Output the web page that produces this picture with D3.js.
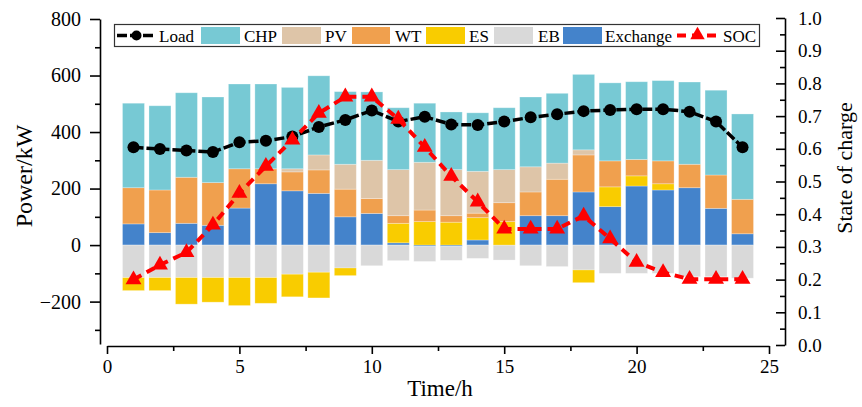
<!DOCTYPE html>
<html>
<head>
<meta charset="utf-8">
<script src="https://cdn.jsdelivr.net/npm/d3@7"></script>
<style>
  body { margin: 0; background: #fff; }
  svg { display: block; font-family: "Liberation Serif", "Times New Roman", serif; }
</style>
</head>
<body>
<svg id="chart" width="862" height="407"></svg>
<script>
const hours = [1, 2, 3, 4, 5, 6, 7, 8, 9, 10, 11, 12, 13, 14, 15, 16, 17, 18, 19, 20, 21, 22, 23, 24];
const load = [346, 340, 335, 329, 364, 369, 384, 418, 443, 476, 437, 454, 427, 425, 437, 452, 463, 474, 478, 481, 481, 472, 437, 346];
const chp = [299, 298, 299, 303, 300, 300, 288, 280, 257, 242, 219, 209, 204, 207, 219, 247, 247, 267, 276, 275, 284, 291, 300, 302];
const pv = [0, 0, 0, 0, 0, 0, 11, 53, 88, 135, 163, 169, 163, 148, 117, 89, 57, 18, 0, 0, 0, 0, 0, 0];
const wt = [128, 151, 163, 151, 139, 53, 67, 83, 98, 53, 27, 41, 23, 16, 67, 84, 129, 131, 92, 58, 81, 83, 118, 122];
const es = [-46, -46, -94, -87, -99, -91, -80, -91, -27, 0, 69, 83, 81, 79, 83, 0, 0, -45, 70, 36, 22, 0, 0, 0];
const eb = [-115, -115, -115, -115, -115, -115, -103, -96, -81, -73, -55, -53, -49, -47, -53, -73, -76, -88, -100, -100, -100, -112, -112, -117];
const exchange = [75, 44, 77, 70, 131, 217, 192, 183, 100, 112, 8, -5, -5, 18, 0, 104, 104, 188, 136, 209, 195, 203, 130, 40];
const soc = [0.200, 0.245, 0.283, 0.367, 0.464, 0.547, 0.627, 0.709, 0.759, 0.759, 0.691, 0.605, 0.516, 0.438, 0.355, 0.355, 0.355, 0.395, 0.325, 0.253, 0.222, 0.201, 0.201, 0.201];

const xTicks = [0, 5, 10, 15, 20, 25];
const yTicks = [-200, 0, 200, 400, 600, 800];
const socTicks = [0, 0.1, 0.2, 0.3, 0.4, 0.5, 0.6, 0.7, 0.8, 0.9, 1.0];

const colors = {
  Exchange: "#4483CB",
  EB: "#D9D9D9",
  ES: "#F9CC00",
  WT: "#F0A04E",
  PV: "#DEC5A8",
  CHP: "#77C9D4"
};

// table for the stack
const rows = hours.map((h, i) => ({
  hour: h, Exchange: exchange[i], EB: eb[i], ES: es[i], WT: wt[i], PV: pv[i], CHP: chp[i]
}));
const keys = ["Exchange", "EB", "ES", "WT", "PV", "CHP"];
const series = d3.stack().keys(keys).offset(d3.stackOffsetDiverging)(rows);

const svg = d3.select("#chart");

const x = d3.scaleLinear().domain([0, 25]).range([107, 769]);
const y = d3.scaleLinear().domain([-350, 800]).range([344, 19]);
const ySoc = d3.scaleLinear().domain([0, 1]).range([345, 18]);
const barW = (x(1) - x(0)) * 0.83;

// bars
svg.append("g")
  .selectAll("g")
  .data(series)
  .enter()
  .append("g")
  .attr("fill", d => colors[d.key])
  .selectAll("rect")
  .data(d => d)
  .enter()
  .append("rect")
  .attr("x", d => x(d.data.hour) - barW / 2)
  .attr("y", d => y(Math.max(d[0], d[1])))
  .attr("width", barW)
  .attr("height", d => Math.abs(y(d[0]) - y(d[1])))
  .attr("stroke", "#fff")
  .attr("stroke-opacity", 0.35)
  .attr("stroke-width", 0.8);

// load line
const loadLine = d3.line().x((d, i) => x(hours[i])).y(d => y(d));
svg.append("path")
  .datum(load)
  .attr("d", loadLine)
  .attr("fill", "none")
  .attr("stroke", "#000")
  .attr("stroke-width", 3.5)
  .attr("stroke-dasharray", "10,3");
svg.append("g")
  .selectAll("circle")
  .data(load)
  .enter()
  .append("circle")
  .attr("cx", (d, i) => x(hours[i]))
  .attr("cy", d => y(d))
  .attr("r", 6)
  .attr("fill", "#000");

// SOC line
const socLine = d3.line().x((d, i) => x(hours[i])).y(d => ySoc(d));
svg.append("path")
  .datum(soc)
  .attr("d", socLine)
  .attr("fill", "none")
  .attr("stroke", "#f00")
  .attr("stroke-width", 4)
  .attr("stroke-dasharray", "9,6");
const tri = d3.symbol().type(d3.symbolTriangle).size(110);
svg.append("g")
  .selectAll("path")
  .data(soc)
  .enter()
  .append("path")
  .attr("d", tri)
  .attr("transform", (d, i) => `translate(${x(hours[i])},${ySoc(d)})`)
  .attr("fill", "#f00");

// axes
function styleAxis(g, size) {
  g.select(".domain").attr("stroke", "#000").attr("stroke-width", 1.6);
  g.selectAll(".tick line").attr("stroke", "#000").attr("stroke-width", 1.6);
  g.selectAll("text").attr("font-family", "Liberation Serif, Times New Roman, serif")
    .attr("font-size", size).attr("fill", "#000");
}

const xMinor = [2.5, 7.5, 12.5, 17.5, 22.5];
svg.append("g")
  .attr("transform", "translate(0,346)")
  .call(d3.axisBottom(x).tickValues(xMinor).tickSize(5).tickSizeOuter(0).tickFormat(""))
  .call(g => styleAxis(g, 19));
svg.append("g")
  .attr("transform", "translate(0,346)")
  .call(d3.axisBottom(x).tickValues(xTicks).tickSize(8).tickSizeOuter(0).tickPadding(6).tickFormat(d3.format("d")))
  .call(g => styleAxis(g, 19))
  .call(g => g.select(".domain").remove());

const yMinor = [-300, -100, 100, 300, 500, 700];
const yAxisScale = y.copy().range([344, 19]);
svg.append("g")
  .attr("transform", "translate(100,0)")
  .call(d3.axisLeft(yAxisScale).tickValues(yMinor).tickSize(5).tickSizeOuter(0).tickFormat(""))
  .call(g => styleAxis(g, 20));
svg.append("g")
  .attr("transform", "translate(100,0)")
  .call(d3.axisLeft(yAxisScale).tickValues(yTicks).tickSize(10).tickSizeOuter(0).tickPadding(9).tickFormat(d3.format("d")))
  .call(g => styleAxis(g, 20))
  .call(g => g.select(".domain").remove());

const socMinor = [0.05, 0.15, 0.25, 0.35, 0.45, 0.55, 0.65, 0.75, 0.85, 0.95];
svg.append("g")
  .attr("transform", "translate(785,0)")
  .call(d3.axisRight(ySoc).tickValues(socMinor).tickSize(-5).tickSizeOuter(0).tickFormat(""))
  .call(g => styleAxis(g, 19));
svg.append("g")
  .attr("transform", "translate(785,0)")
  .call(d3.axisRight(ySoc).tickValues(socTicks).tickSize(-9).tickSizeOuter(0).tickPadding(13).tickFormat(d3.format(".1f")))
  .call(g => styleAxis(g, 19))
  .call(g => g.select(".domain").remove());

// axis titles
svg.append("text")
  .attr("x", 440)
  .attr("y", 396)
  .attr("text-anchor", "middle")
  .attr("font-size", 23)
  .text("Time/h");

svg.append("text")
  .attr("transform", "translate(32,176) rotate(-90)")
  .attr("text-anchor", "middle")
  .attr("font-size", 24)
  .text("Power/kW");

svg.append("text")
  .attr("transform", "translate(852,168) rotate(-90)")
  .attr("text-anchor", "middle")
  .attr("font-size", 22)
  .text("State of charge");

// legend
const legend = svg.append("g");
legend.append("rect")
  .attr("x", 114.5).attr("y", 24.5)
  .attr("width", 645).attr("height", 22)
  .attr("fill", "#fff")
  .attr("stroke", "#333")
  .attr("stroke-width", 1.2);

const legendItems = [
  { label: "Load", type: "load", x0: 117, x1: 156, tx: 159 },
  { label: "CHP", type: "CHP", x0: 201, x1: 240, tx: 244 },
  { label: "PV", type: "PV", x0: 282, x1: 321, tx: 325 },
  { label: "WT", type: "WT", x0: 352, x1: 390, tx: 395 },
  { label: "ES", type: "ES", x0: 426, x1: 465, tx: 469 },
  { label: "EB", type: "EB", x0: 494, x1: 533, tx: 538 },
  { label: "Exchange", type: "Exchange", x0: 563, x1: 602, tx: 605 },
  { label: "SOC", type: "soc", x0: 677, x1: 718, tx: 723 }
];

legendItems.forEach(d => {
  if (d.type === "load") {
    legend.append("line")
      .attr("x1", d.x0).attr("x2", d.x1).attr("y1", 35.5).attr("y2", 35.5)
      .attr("stroke", "#000").attr("stroke-width", 3.5).attr("stroke-dasharray", "10,3");
    legend.append("circle")
      .attr("cx", (d.x0 + d.x1) / 2).attr("cy", 35.5).attr("r", 5).attr("fill", "#000");
  } else if (d.type === "soc") {
    legend.append("line")
      .attr("x1", d.x0).attr("x2", d.x1).attr("y1", 35.5).attr("y2", 35.5)
      .attr("stroke", "#f00").attr("stroke-width", 4).attr("stroke-dasharray", "9,6");
    legend.append("path")
      .attr("d", d3.symbol().type(d3.symbolTriangle).size(90))
      .attr("transform", `translate(${(d.x0 + d.x1) / 2},35)`)
      .attr("fill", "#f00");
  } else {
    legend.append("rect")
      .attr("x", d.x0).attr("y", 27)
      .attr("width", d.x1 - d.x0).attr("height", 17)
      .attr("fill", colors[d.type]);
  }
  legend.append("text")
    .attr("x", d.tx).attr("y", 41.5)
    .attr("font-size", 17)
    .text(d.label);
});
</script>
</body>
</html>
